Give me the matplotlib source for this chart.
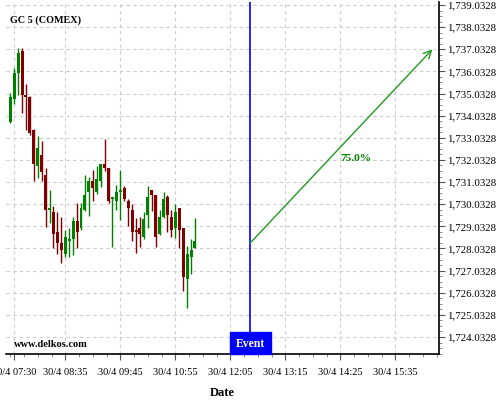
import numpy as np
import matplotlib
matplotlib.use('Agg')
import matplotlib.pyplot as plt
from matplotlib.patches import Rectangle
from matplotlib.ticker import FixedLocator, FuncFormatter
import matplotlib.transforms as mtransforms

plt.rcParams['font.family'] = ['Liberation Serif', 'DejaVu Serif']

# 5 minute candles, 30/4 07:25 .. 11:20 (minutes since midnight)
times = np.arange(445, 445 + 48 * 5, 5)
opens = [1733.76, 1734.80, 1735.97, 1736.95, 1734.92, 1734.89, 1733.39, 1731.77,
         1732.26, 1731.35, 1729.77, 1729.68, 1728.78, 1728.28, 1727.80, 1728.38,
         1728.47, 1729.27, 1728.97, 1729.77, 1730.58, 1731.08, 1730.58, 1731.08,
         1731.85, 1731.67, 1730.28, 1730.18, 1730.58, 1730.77, 1730.18, 1729.79,
         1728.87, 1728.97, 1728.56, 1729.56, 1730.67, 1730.45, 1728.69, 1729.46,
         1730.36, 1729.45, 1728.97, 1729.86, 1728.96, 1726.67, 1727.66, 1728.07]
highs = [1735.04, 1736.17, 1737.08, 1737.08, 1735.46, 1734.92, 1733.42, 1733.13,
         1732.89, 1731.65, 1730.67, 1729.95, 1729.68, 1729.44, 1728.87, 1728.94,
         1729.44, 1730.07, 1730.07, 1731.35, 1731.25, 1731.56, 1731.76, 1731.87,
         1732.97, 1731.69, 1730.37, 1730.88, 1731.58, 1730.86, 1730.27, 1730.06,
         1729.39, 1729.44, 1729.67, 1730.86, 1730.69, 1730.47, 1729.77, 1730.58,
         1730.45, 1729.77, 1730.06, 1729.88, 1728.98, 1728.14, 1728.46, 1729.42]
lows = [1733.72, 1734.56, 1734.97, 1734.14, 1733.39, 1733.16, 1731.08, 1731.22,
        1731.08, 1729.02, 1729.18, 1728.04, 1727.77, 1727.36, 1727.63, 1727.65,
        1727.75, 1728.04, 1728.87, 1729.74, 1729.51, 1730.18, 1730.49, 1730.82,
        1731.53, 1730.07, 1728.11, 1729.76, 1729.32, 1730.18, 1729.03, 1728.35,
        1727.85, 1728.11, 1728.46, 1728.97, 1729.74, 1728.11, 1728.64, 1729.41,
        1728.79, 1728.54, 1728.52, 1728.04, 1726.11, 1725.33, 1726.87, 1728.04]
closes = [1734.86, 1735.97, 1736.88, 1734.97, 1734.88, 1733.26, 1731.85, 1732.59,
          1731.50, 1729.77, 1729.86, 1728.70, 1728.29, 1727.98, 1728.55, 1728.47,
          1729.27, 1728.79, 1729.86, 1730.46, 1731.08, 1730.77, 1731.17, 1731.85,
          1731.67, 1730.18, 1730.33, 1730.58, 1730.67, 1730.27, 1729.86, 1728.78,
          1728.79, 1728.70, 1729.36, 1730.36, 1730.45, 1728.56, 1729.45, 1730.27,
          1729.56, 1728.88, 1729.68, 1728.88, 1726.76, 1727.78, 1727.96, 1728.37]

event_time = 750            # 12:30
arrow_start = (750, 1728.27)
arrow_end = (982, 1737.03)
pct_label = '75.0%'
pct_pos = (885, 1732.08)

# 07:30, then 08:35 every 70 minutes
xticks = [450] + list(range(515, 990, 70))
yticks = 1724.0328 + np.arange(0, 16)

GREEN = '#008000'
RED = '#800000'

fig = plt.figure(figsize=(5, 4), dpi=100)
ax = fig.add_axes([0.012, 0.115, 0.866, 0.88])

opens = np.array(opens); closes = np.array(closes)
highs = np.array(highs); lows = np.array(lows)
up = closes >= opens
colors = np.where(up, GREEN, RED)

ax.vlines(times, lows, highs, colors=colors, linewidth=1.0, zorder=3)
body_low = np.minimum(opens, closes)
body_h = np.maximum(np.abs(closes - opens), 0.08)
ax.bar(times, body_h, bottom=body_low, width=3.8, color=colors, linewidth=0, zorder=4)

# event marker
ax.axvline(event_time, color='#0000ff', linewidth=1.2, zorder=5)
trans = mtransforms.blended_transform_factory(ax.transData, ax.transAxes)
ax.add_patch(Rectangle((724.5, 0), 52, 0.063, transform=trans, color='#0000ff',
                       zorder=6, clip_on=False))
ax.text(750.5, 0.028, 'Event', transform=trans, color='white', fontsize=8.5,
        fontweight='bold', ha='center', va='center', zorder=7)

ax.annotate('', xy=arrow_end, xytext=arrow_start,
            arrowprops=dict(arrowstyle='->', color='#229922', lw=1.0,
                            mutation_scale=14, shrinkA=0, shrinkB=0), zorder=5)
ax.text(*pct_pos, pct_label, color=GREEN, fontsize=8.2, fontweight='bold',
        ha='center', va='center')

ax.text(0.009, 0.949, 'GC 5 (COMEX)', transform=ax.transAxes, fontsize=7.3,
        fontweight='bold', ha='left', va='center')
ax.text(0.018, 0.014, 'www.delkos.com', transform=ax.transAxes, fontsize=7.5,
        fontweight='bold', ha='left', va='bottom')

ax.set_xlim(439.6, 990.4)
ax.set_ylim(1723.265, 1739.168)

ax.xaxis.set_major_locator(FixedLocator(xticks))
ax.xaxis.set_minor_locator(FixedLocator(np.arange(445, 1000, 17.5)))
ax.xaxis.set_major_formatter(FuncFormatter(
    lambda v, p: '30/4 %02d:%02d' % (int(v) // 60, int(v) % 60)))
ax.yaxis.tick_right()
ax.yaxis.set_major_locator(FixedLocator(yticks))
ax.yaxis.set_minor_locator(FixedLocator(1723.0328 + np.arange(0, 17.01, 0.25)))
ax.yaxis.set_major_formatter(FuncFormatter(lambda v, p: f'{v:,.4f}'))

ax.tick_params(axis='both', which='major', labelsize=7.8, length=4, width=0.8,
               color='#555555', pad=2)
ax.tick_params(axis='both', which='minor', length=2, width=0.6, color='#777777')
ax.tick_params(axis='x', labelsize=7.5, pad=6)

for s in ['left', 'top']:
    ax.spines[s].set_visible(False)
for s in ['bottom', 'right']:
    ax.spines[s].set_linewidth(1.2)

ax.grid(True, which='major', color='#cccccc', linestyle=(0, (3, 3)), linewidth=0.8)
ax.set_axisbelow(True)

ax.set_xlabel('Date', fontsize=9, fontweight='bold', labelpad=7)

fig.savefig('out.png', dpi=100)
